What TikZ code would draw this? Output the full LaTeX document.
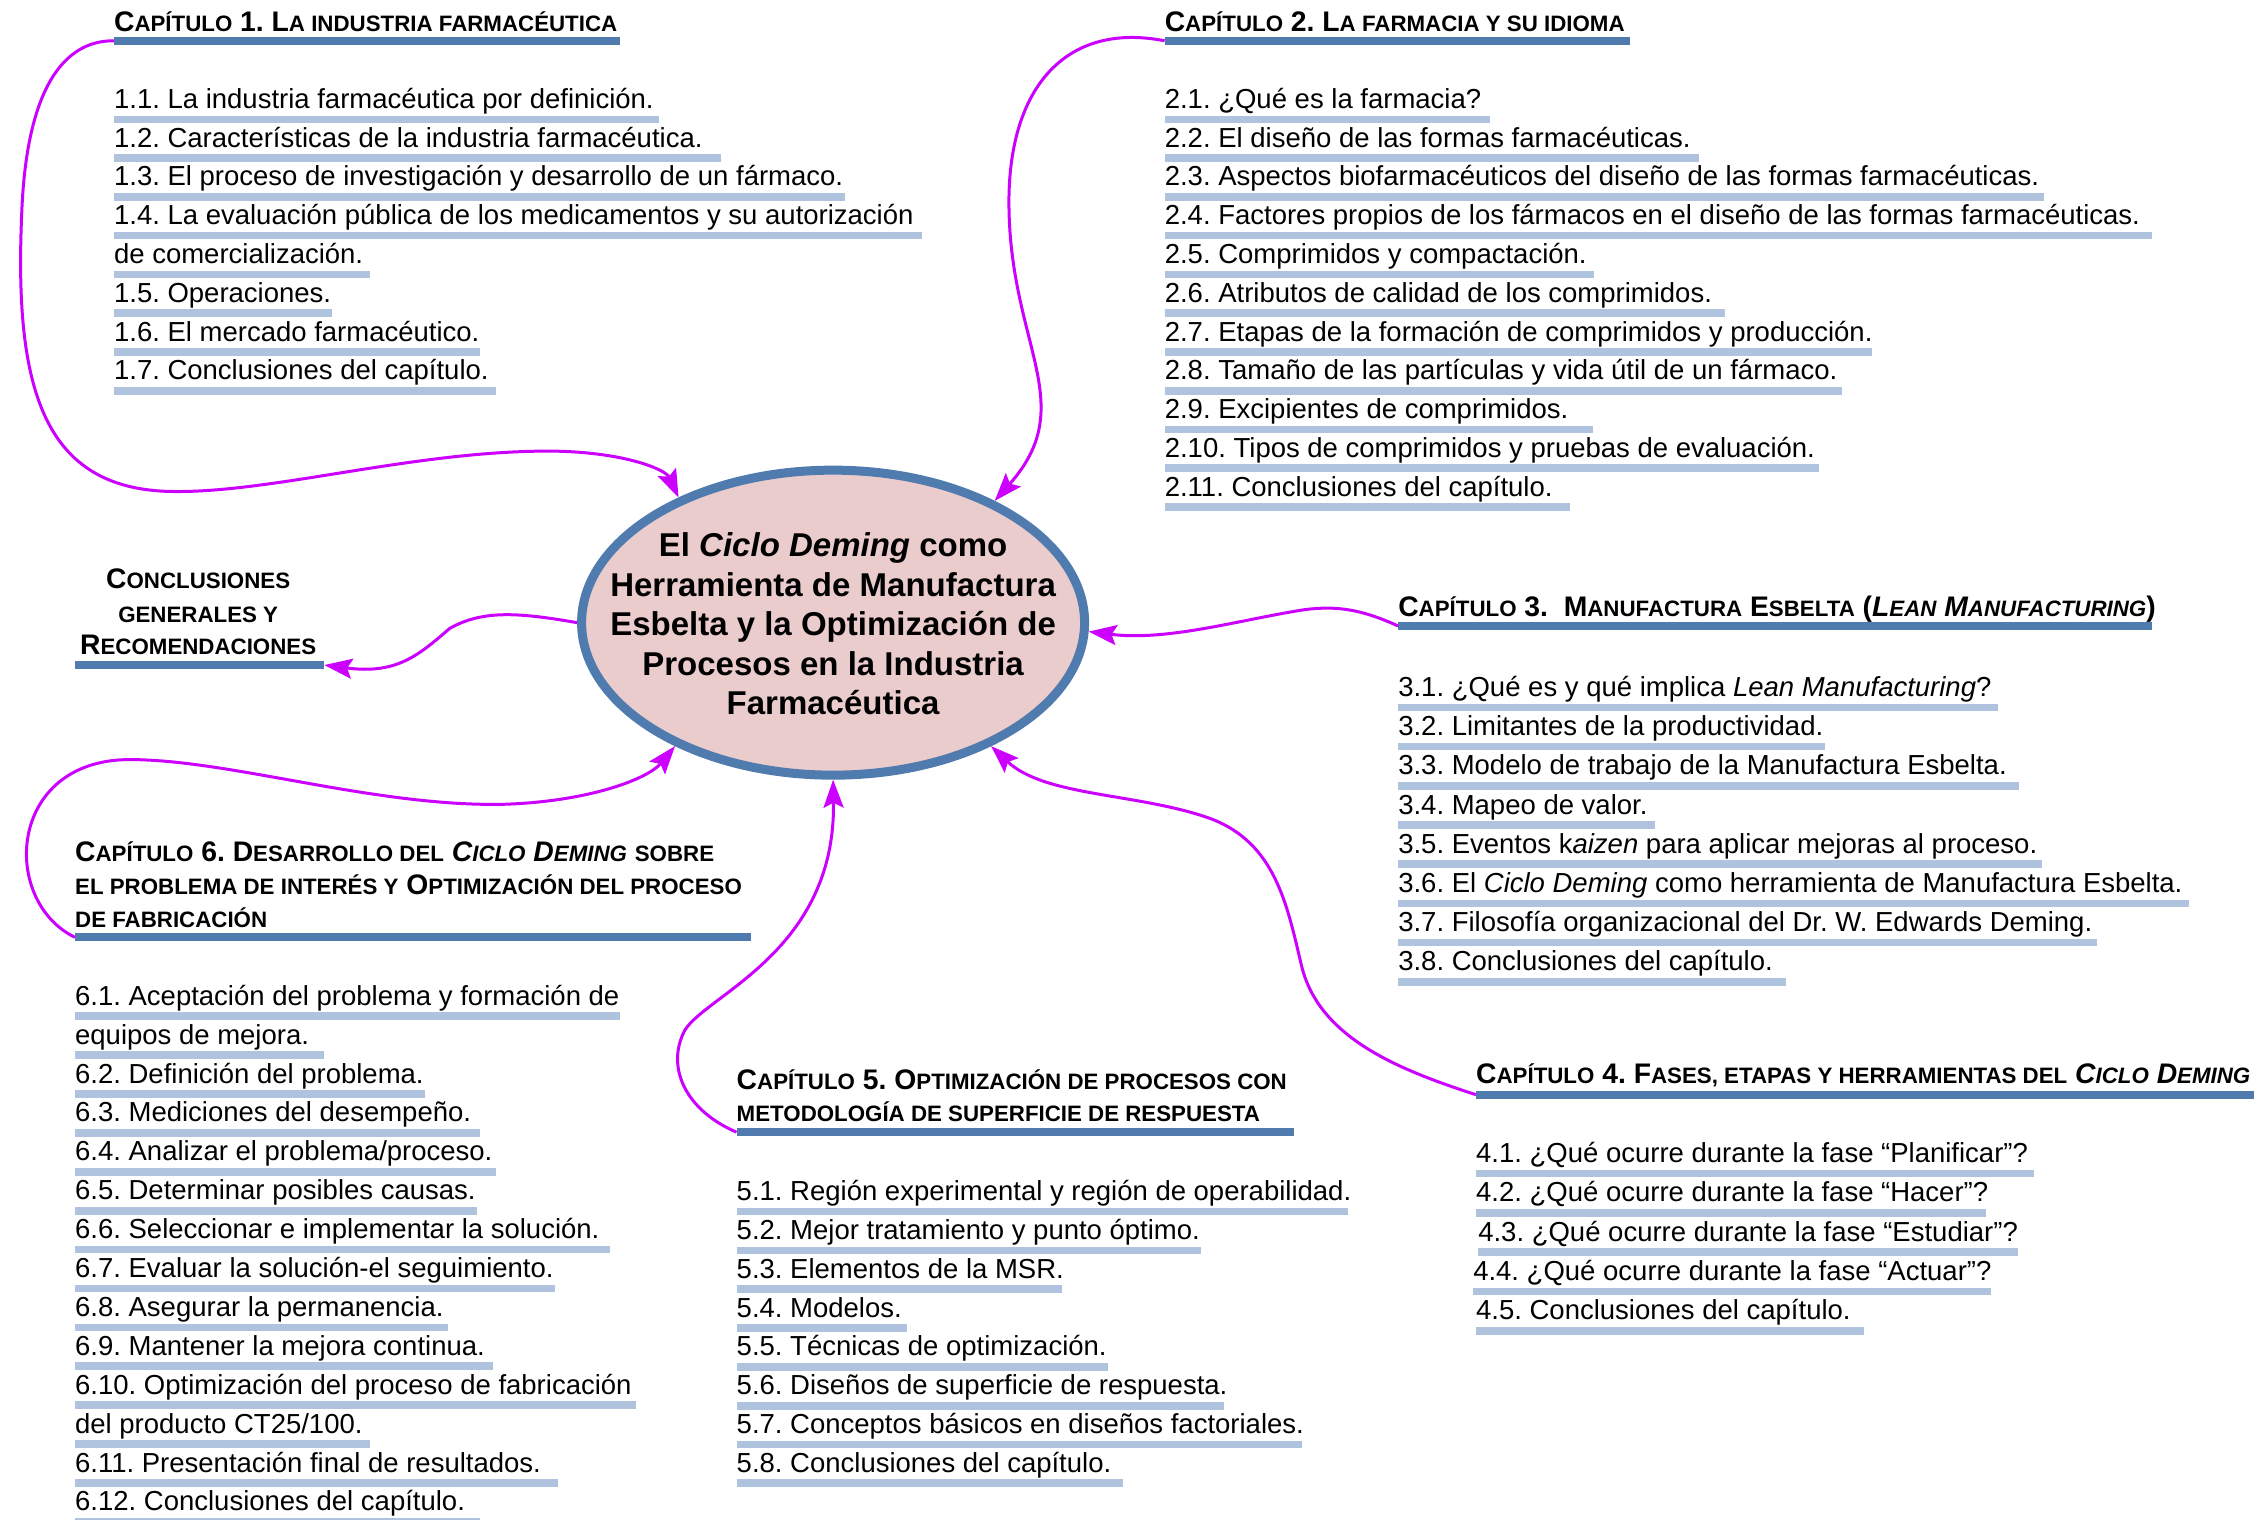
\documentclass[tikz,border=0pt]{standalone}
\usepackage{fontspec}
\setmainfont{Liberation Sans}
\usetikzlibrary{arrows.meta,shapes.geometric}
\frenchspacing

\definecolor{bardark}{RGB}{79,123,175}
\definecolor{barlight}{RGB}{176,195,222}
\definecolor{hubfill}{RGB}{235,204,204}
\definecolor{linkc}{RGB}{204,0,255}

\newcommand\itf{\fontsize{27.5pt}{32pt}\selectfont}
\newcommand\hdf{\fontsize{28.3pt}{32pt}\selectfont\bfseries}
\newcommand\ttlf{\fontsize{33pt}{39pt}\selectfont\bfseries}
\newcommand\smcap[1]{{\fontsize{22.3pt}{24pt}\selectfont #1}}

\tikzset{
  itemtext/.style={font=\itf, inner sep=0pt, anchor=base west},
  headtext/.style={font=\hdf, inner sep=0pt, anchor=base west},
  conctext/.style={font=\hdf, inner sep=0pt, anchor=base},
  titletext/.style={font=\ttlf, inner sep=0pt, anchor=base},
  itembar/.style={draw=barlight, line width=7.6pt},
  headbar/.style={draw=bardark, line width=8.3pt},
  hub/.style={ellipse, draw=bardark, fill=hubfill, line width=9pt,
    minimum width=503pt, minimum height=305pt, inner sep=0pt},
  link/.style={draw=linkc, line width=3pt,
    -{Stealth[length=28pt,width=20pt,inset=5pt]}},
}

% one list entry: name, x, baseline, end of underline, text
\newcommand\itm[5]{%
  \draw[itembar] (#2,#3+7.6) -- (#4,#3+7.6);
  \node[itemtext] (#1) at (#2,#3) {#5};}

\begin{document}
\begin{tikzpicture}[x=1.4413pt,y=-1.4413pt]
\fill[white] (0,0) rectangle (1568,1054);
\useasboundingbox (0,0) rectangle (1568,1054);

% central topic
\node[hub] (c) at (578,432) {};
\node[titletext] (t1) at (578,386) {El \textit{Ciclo Deming} como};
\node[titletext] (t2) at (578,414) {Herramienta de Manufactura};
\node[titletext] (t3) at (578,440.6) {Esbelta y la Optimización de};
\node[titletext] (t4) at (578,468.4) {Procesos en la Industria};
\node[titletext] (t5) at (578,495.4) {Farmacéutica};

% chapter 1
\coordinate (s1) at (79,28.3);
\draw[headbar] (s1) -- (430,28.3);
\node[headtext] (h1) at (79,22) {C\smcap{APÍTULO} 1. L\smcap{A INDUSTRIA FARMACÉUTICA}};
\itm{i11}{79}{75.2}{457}{1.1. La industria farmacéutica por definición.}
\itm{i12}{79}{102.1}{500}{1.2. Características de la industria farmacéutica.}
\itm{i13}{79}{129.0}{586}{1.3. El proceso de investigación y desarrollo de un fármaco.}
\itm{i14a}{79}{155.9}{640}{1.4. La evaluación pública de los medicamentos y su autorización}
\itm{i14b}{79}{182.8}{257}{de comercialización.}
\itm{i15}{79}{209.7}{230}{1.5. Operaciones.}
\itm{i16}{79}{236.6}{333}{1.6. El mercado farmacéutico.}
\itm{i17}{79}{263.5}{344}{1.7. Conclusiones del capítulo.}

% chapter 2
\coordinate (s2) at (808,28.3);
\draw[headbar] (s2) -- (1131,28.3);
\node[headtext] (h2) at (808,22) {C\smcap{APÍTULO} 2. L\smcap{A FARMACIA Y SU IDIOMA}};
\itm{i21}{808}{75.2}{1034}{2.1. ¿Qué es la farmacia?}
\itm{i22}{808}{102.1}{1179}{2.2. El diseño de las formas farmacéuticas.}
\itm{i23}{808}{129.0}{1418}{2.3. Aspectos biofarmacéuticos del diseño de las formas farmacéuticas.}
\itm{i24}{808}{155.9}{1493}{2.4. Factores propios de los fármacos en el diseño de las formas farmacéuticas.}
\itm{i25}{808}{182.8}{1106}{2.5. Comprimidos y compactación.}
\itm{i26}{808}{209.7}{1197}{2.6. Atributos de calidad de los comprimidos.}
\itm{i27}{808}{236.6}{1299}{2.7. Etapas de la formación de comprimidos y producción.}
\itm{i28}{808}{263.5}{1278}{2.8. Tamaño de las partículas y vida útil de un fármaco.}
\itm{i29}{808}{290.4}{1105}{2.9. Excipientes de comprimidos.}
\itm{i210}{808}{317.3}{1262}{2.10. Tipos de comprimidos y pruebas de evaluación.}
\itm{i211}{808}{344.2}{1089}{2.11. Conclusiones del capítulo.}

% chapter 3
\coordinate (s3) at (970,434.3);
\draw[headbar] (s3) -- (1493,434.3);
\node[headtext] (h3) at (970,427.5) {C\smcap{APÍTULO} 3.\ \ M\smcap{ANUFACTURA} E\smcap{SBELTA} (\textit{L\smcap{EAN} M\smcap{ANUFACTURING}})};
\itm{i31}{970}{483.2}{1386}{3.1. ¿Qué es y qué implica \textit{Lean Manufacturing}?}
\itm{i32}{970}{510.4}{1266}{3.2. Limitantes de la productividad.}
\itm{i33}{970}{537.6}{1401}{3.3. Modelo de trabajo de la Manufactura Esbelta.}
\itm{i34}{970}{564.8}{1148}{3.4. Mapeo de valor.}
\itm{i35}{970}{592.0}{1417}{3.5. Eventos k\textit{aizen} para aplicar mejoras al proceso.}
\itm{i36}{970}{619.2}{1519}{3.6. El \textit{Ciclo Deming} como herramienta de Manufactura Esbelta.}
\itm{i37}{970}{646.4}{1455}{3.7. Filosofía organizacional del Dr. W. Edwards Deming.}
\itm{i38}{970}{673.6}{1239}{3.8. Conclusiones del capítulo.}

% chapter 4
\coordinate (s4) at (1024,759.5);
\draw[headbar] (s4) -- (1564,759.5);
\node[headtext] (h4) at (1024,752) {C\smcap{APÍTULO} 4. F\smcap{ASES, ETAPAS Y HERRAMIENTAS DEL} \textit{C\smcap{ICLO} D\smcap{EMING}}};
\itm{i41}{1024}{806.6}{1411}{4.1. ¿Qué ocurre durante la fase “Planificar”?}
\itm{i42}{1024}{833.9}{1378}{4.2. ¿Qué ocurre durante la fase “Hacer”?}
\itm{i43}{1025.5}{861.2}{1400}{4.3. ¿Qué ocurre durante la fase “Estudiar”?}
\itm{i44}{1022}{888.5}{1381}{4.4. ¿Qué ocurre durante la fase “Actuar”?}
\itm{i45}{1024}{915.8}{1293}{4.5. Conclusiones del capítulo.}

% chapter 5
\coordinate (s5) at (511,785.5);
\draw[headbar] (s5) -- (898,785.5);
\node[headtext] (h5a) at (511,755.8) {C\smcap{APÍTULO} 5. O\smcap{PTIMIZACIÓN DE PROCESOS CON}};
\node[headtext] (h5b) at (511,778.2) {\smcap{METODOLOGÍA DE SUPERFICIE DE RESPUESTA}};
\itm{i51}{511}{833.0}{935}{5.1. Región experimental y región de operabilidad.}
\itm{i52}{511}{859.9}{833}{5.2. Mejor tratamiento y punto óptimo.}
\itm{i53}{511}{886.9}{737}{5.3. Elementos de la MSR.}
\itm{i54}{511}{913.8}{629}{5.4. Modelos.}
\itm{i55}{511}{940.7}{769}{5.5. Técnicas de optimización.}
\itm{i56}{511}{967.7}{849}{5.6. Diseños de superficie de respuesta.}
\itm{i57}{511}{994.6}{903}{5.7. Conceptos básicos en diseños factoriales.}
\itm{i58}{511}{1021.5}{779}{5.8. Conclusiones del capítulo.}

% chapter 6
\coordinate (s6) at (52,650.3);
\draw[headbar] (s6) -- (521,650.3);
\node[headtext] (h6a) at (52,597.7) {C\smcap{APÍTULO} 6. D\smcap{ESARROLLO DEL} \textit{C\smcap{ICLO} D\smcap{EMING}} \smcap{SOBRE}};
\node[headtext] (h6b) at (52,620.5) {\smcap{EL PROBLEMA DE INTERÉS Y} O\smcap{PTIMIZACIÓN DEL PROCESO}};
\node[headtext] (h6c) at (52,643.5) {\smcap{DE FABRICACIÓN}};
\itm{i61a}{52}{697.5}{430}{6.1. Aceptación del problema y formación de}
\itm{i61b}{52}{724.5}{225}{equipos de mejora.}
\itm{i62}{52}{751.5}{295}{6.2. Definición del problema.}
\itm{i63}{52}{778.4}{333}{6.3. Mediciones del desempeño.}
\itm{i64}{52}{805.4}{344}{6.4. Analizar el problema/proceso.}
\itm{i65}{52}{832.4}{331}{6.5. Determinar posibles causas.}
\itm{i66}{52}{859.4}{423}{6.6. Seleccionar e implementar la solución.}
\itm{i67}{52}{886.4}{385}{6.7. Evaluar la solución-el seguimiento.}
\itm{i68}{52}{913.3}{311}{6.8. Asegurar la permanencia.}
\itm{i69}{52}{940.3}{342}{6.9. Mantener la mejora continua.}
\itm{i610a}{52}{967.3}{441}{6.10. Optimización del proceso de fabricación}
\itm{i610b}{52}{994.3}{257}{del producto CT25/100.}
\itm{i611}{52}{1021.3}{387}{6.11. Presentación final de resultados.}
\itm{i612}{52}{1048.2}{333}{6.12. Conclusiones del capítulo.}

% general conclusions
\coordinate (s7) at (225,461.4);
\draw[headbar] (52,461.4) -- (s7);
\node[conctext] (k1) at (137.5,408.1) {C\smcap{ONCLUSIONES}};
\node[conctext] (k2) at (137.5,431.6) {\smcap{GENERALES Y}};
\node[conctext] (k3) at (137.5,454) {R\smcap{ECOMENDACIONES}};

% connectors
\draw[link] (s1) .. controls (45,28) and (18,60) .. (15,150)
  .. controls (10,270) and (30,340) .. (120,341)
  .. controls (190,342) and (290,312) .. (385,313)
  .. controls (435,314) and (462,326) .. (c.141);
\draw[link] (s2) .. controls (740,15) and (700,60) .. (700,140)
  .. controls (700,240) and (750,280) .. (c.37);
\draw[link] (s3) .. controls (945,423) and (928,420) .. (905,423)
  .. controls (860,430) and (810,445) .. (c.358);
\draw[link] (s4) .. controls (970,742) and (915,720) .. (903,670)
  .. controls (893,628) and (885,585) .. (840,568)
  .. controls (790,550) and (725,553) .. (c.322);
\draw[link] (s5) .. controls (475,770) and (462,740) .. (475,715)
  .. controls (490,690) and (580,660) .. (c.270);
\draw[link] (s6) .. controls (0,625) and (5,527) .. (90,527)
  .. controls (160,527) and (260,560) .. (350,558)
  .. controls (410,556) and (450,540) .. (c.218);
\draw[link] (c.180) .. controls (360,425) and (335,423) .. (312,436)
  .. controls (290,455) and (275,468) .. (s7);
\end{tikzpicture}
\end{document}
